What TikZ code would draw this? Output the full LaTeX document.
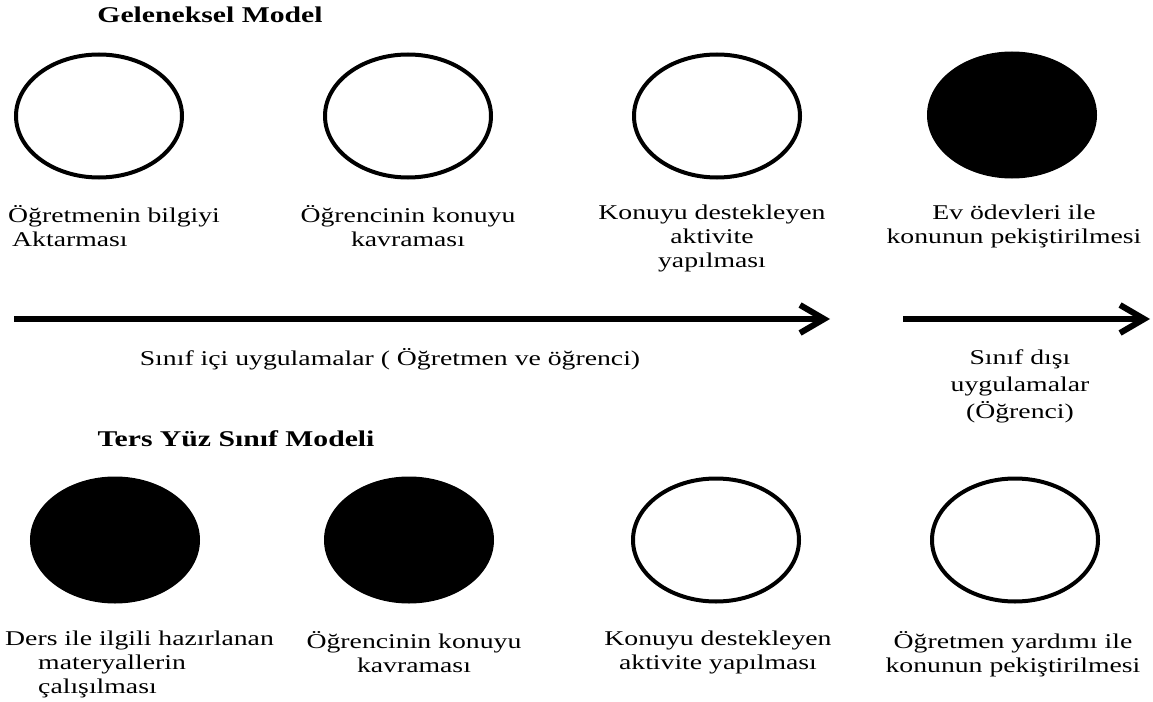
\documentclass[tikz,border=0pt]{standalone}
\usepackage{fontspec}
\setmainfont{Liberation Serif}[FakeStretch=1.32]
\usetikzlibrary{shapes.geometric,arrows.meta}
\newcommand{\labfont}{\fontsize{21bp}{24bp}\selectfont}
\newcommand{\headfont}{\fontsize{22.5bp}{26bp}\selectfont\bfseries}
\begin{document}
\begin{tikzpicture}[x=1bp, y=-1bp,
        dot/.style={ellipse, draw, line width=4bp, inner sep=0pt,
          minimum width=166bp, minimum height=123bp},
        fulldot/.style={dot, fill=black},
        lab/.style={font=\labfont, align=center, anchor=north,
          inner sep=0pt, execute at begin node=\strut},
        head/.style={font=\headfont, anchor=base, inner sep=0pt},
        flow/.style={line width=6bp, -{Straight Barb[length=24bp, width=28bp]}}
      ]
        \useasboundingbox (0,0) rectangle (1153,702);

        % Traditional model
        \node[head] (tradhead) at (210,23) {Geleneksel Model};

        \node[dot] (tc1) at (99,116) {};
        \node[dot] (tc2) at (408,116) {};
        \node[dot] (tc3) at (717,116) {};
        \node[fulldot] (tc4) at (1012,115) {};

        \node[lab, align=left, anchor=north west] (tl1) at (8,205)
          {Öğretmenin bilgiyi\\\hspace*{4bp}Aktarması};
        \node[lab] (tl2) at (408,205) {Öğrencinin konuyu\\kavraması};
        \node[lab] (tl3) at (712,205) {Konuyu destekleyen\\aktivite\\yapılması};
        \node[lab] (tl4) at (1014,205) {Ev ödevleri ile\\konunun pekiştirilmesi};

        % Arrows
        \coordinate (inS) at (14,319);
        \coordinate (inE) at (830,319);
        \coordinate (outS) at (903,319);
        \coordinate (outE) at (1150,319);
        \draw[flow] (inS) -- (inE);
        \draw[flow] (outS) -- (outE);

        \node[font=\labfont, anchor=base, inner sep=0pt] (inlab) at (390,365)
          {Sınıf içi uygulamalar ( Öğretmen ve öğrenci)};
        \node[lab, font=\fontsize{21bp}{27bp}\selectfont] (outlab) at (1020,350)
          {Sınıf dışı\\uygulamalar\\(Öğrenci)};

        % Flipped model
        \node[head] (fliphead) at (236,446) {Ters Yüz Sınıf Modeli};

        \node[fulldot] (bc1) at (115,540) {};
        \node[fulldot] (bc2) at (409,540) {};
        \node[dot] (bc3) at (716,540) {};
        \node[dot] (bc4) at (1015,540) {};

        \node[lab, align=left, anchor=north west] (bl1) at (5,631)
          {Ders ile ilgili hazırlanan\\\hspace*{33bp}materyallerin\\\hspace*{33bp}çalışılması};
        \node[lab] (bl2) at (414,631) {Öğrencinin konuyu\\kavraması};
        \node[lab] (bl3) at (718,631) {Konuyu destekleyen\\aktivite yapılması};
        \node[lab] (bl4) at (1013,631) {Öğretmen yardımı ile\\konunun pekiştirilmesi};
      \end{tikzpicture}
\end{document}
